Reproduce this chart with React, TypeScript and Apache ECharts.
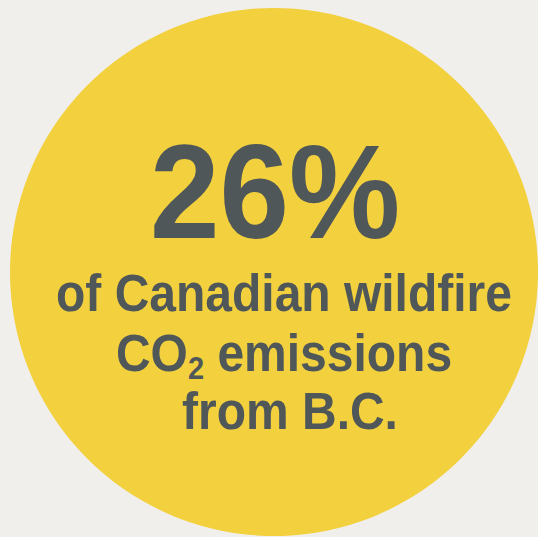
import React, { useEffect, useRef } from "react";
import * as echarts from "echarts";

const statValues = [26];
const statUnits = ["%"];
const captionLines = ["of Canadian wildfire", "{m|CO}{s|2}{m| emissions}", "from B.C."];

const BG = "#f0efec";
const YELLOW = "#f3d03e";
const INK = "#4f5759";
const FONT = "'Liberation Sans', Arial, Helvetica, sans-serif";

export default function App() {
  const ref = useRef<HTMLDivElement>(null);
  useEffect(() => {
    if (!ref.current) return;
    const chart = echarts.init(ref.current, null, { renderer: "svg" });
    const captionY = [293, 353, 411];
    const option: any = {
      animation: false,
      backgroundColor: BG,
      graphic: [
        {
          type: "circle",
          shape: { cx: 274, cy: 272, r: 264 },
          style: { fill: YELLOW },
          silent: true,
        },
        {
          type: "text",
          x: 275,
          y: 192,
          scaleY: 1.07,
          style: {
            text: `${statValues[0]}${statUnits[0]}`,
            fill: INK,
            font: `bold 125px ${FONT}`,
            textAlign: "center",
            textVerticalAlign: "middle",
          },
        },
        ...captionLines.map((line, i) => ({
          type: "text",
          x: [284, 284, 290][i],
          y: captionY[i],
          scaleY: 1.07,
          style: {
            text: line,
            fill: INK,
            font: `bold 48px ${FONT}`,
            textAlign: "center",
            textVerticalAlign: "middle",
            rich: {
              m: { fill: INK, fontSize: 48, fontWeight: "bold", fontFamily: FONT, lineHeight: 58, verticalAlign: "middle" },
              s: { fill: INK, fontSize: 29, fontWeight: "bold", fontFamily: FONT, lineHeight: 21, verticalAlign: "bottom" },
            },
          },
        })),
      ],
    };
    chart.setOption(option);
    return () => chart.dispose();
  }, []);
  return (
    <div
      ref={ref}
      style={{ position: "fixed", left: 0, top: 0, width: 538, height: 537 }}
    />
  );
}
